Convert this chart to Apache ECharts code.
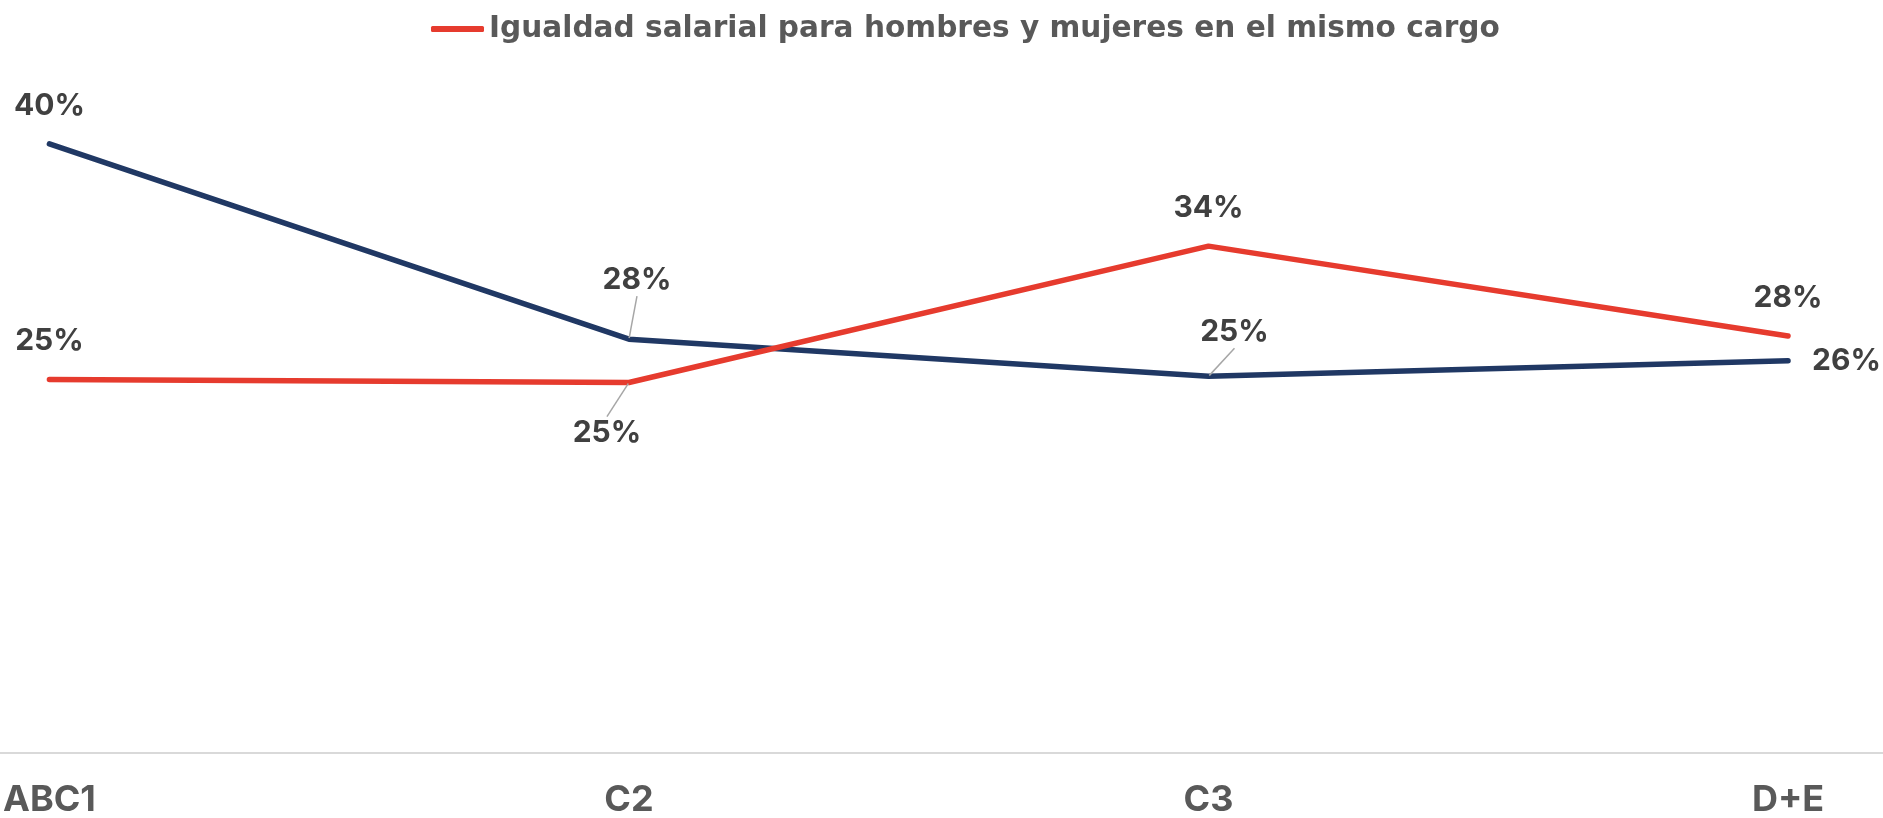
<!DOCTYPE html>
<html>
<head>
<meta charset="utf-8">
<script src="https://cdn.jsdelivr.net/npm/echarts@6/dist/echarts.min.js"></script>
<style>
html,body{margin:0;padding:0;background:#fff;}
#main{width:1883px;height:818px;}
</style>
</head>
<body>
<div id="main"></div>
<script>
// ---- data ----
const categories = ['ABC1', 'C2', 'C3', 'D+E'];
const seriesBlueName = 'Otro';
const seriesBlue = [40.3, 27.7, 25.3, 26.3];
const seriesRedName = 'Igualdad salarial para hombres y mujeres en el mismo cargo';
const seriesRed = [25.1, 24.9, 33.7, 27.9];

// ---- layout tweaks for individual labels (offsets from default 'top' position) ----
const blueLabelMoves = {1: [8, -21], 2: [26, -6]};
const redLabelMoves = {1: [-22, 88]};
const blueRightLabel = 3;

const FONT = 'Inter';
const chart = echarts.init(document.getElementById('main'));

function buildData(values, moves, rightIdx) {
  return values.map((v, i) => {
    const item = {value: [i, v]};
    if (moves[i]) item.labelLine = {show: true};
    if (i === rightIdx) item.label = {position: 'right', distance: 23};
    return item;
  });
}

const labelStyle = {
  show: true,
  position: 'top',
  distance: 21,
  fontFamily: FONT,
  fontWeight: 'bold',
  fontSize: 30,
  lineHeight: 32,
  color: '#404040',
  formatter: p => Math.round(p.value[1]) + '%'
};

function layoutFor(moves) {
  return function (params) {
    const m = moves[params.dataIndex];
    if (m) return {dx: m[0], dy: m[1]};
    return {};
  };
}

chart.setOption({
  animation: false,
  backgroundColor: '#ffffff',
  legend: {
    data: [seriesRedName],
    top: 9,
    left: 426,
    icon: 'roundRect',
    itemWidth: 53,
    itemHeight: 6,
    textStyle: {fontFamily: 'DejaVu Sans', fontWeight: 'bold', fontSize: 29.6, color: '#595959'}
  },
  grid: {left: 0, right: 0, top: 133, bottom: 65},
  xAxis: {
    type: 'value',
    min: -49 / 579.7,
    max: 3 + 95 / 579.7,
    splitLine: {show: false},
    axisTick: {show: false},
    axisLine: {show: true, lineStyle: {color: '#d9d9d9', width: 2}},
    axisLabel: {
      customValues: categories.map((c, i) => i),
      formatter: v => categories[Math.round(v)],
      margin: 29,
      fontFamily: FONT,
      fontWeight: 'bold',
      fontSize: 36,
      color: '#595959'
    }
  },
  yAxis: {type: 'value', min: 1, max: 41, show: false},
  series: [
    {
      name: seriesBlueName,
      type: 'line',
      data: buildData(seriesBlue, blueLabelMoves, blueRightLabel),
      symbol: 'circle',
      symbolSize: 2,
      lineStyle: {color: '#203864', width: 5.5, cap: 'round'},
      itemStyle: {color: '#203864'},
      label: labelStyle,
      labelLine: {show: false, lineStyle: {color: '#a6a6a6', width: 1.5}},
      labelLayout: layoutFor(blueLabelMoves)
    },
    {
      name: seriesRedName,
      type: 'line',
      data: buildData(seriesRed, redLabelMoves, -1),
      symbol: 'circle',
      symbolSize: 2,
      lineStyle: {color: '#e63b2e', width: 5.5, cap: 'round'},
      itemStyle: {color: '#e63b2e'},
      label: labelStyle,
      labelLine: {show: false, lineStyle: {color: '#a6a6a6', width: 1.5}},
      labelLayout: layoutFor(redLabelMoves)
    }
  ]
});
</script>
</body>
</html>
